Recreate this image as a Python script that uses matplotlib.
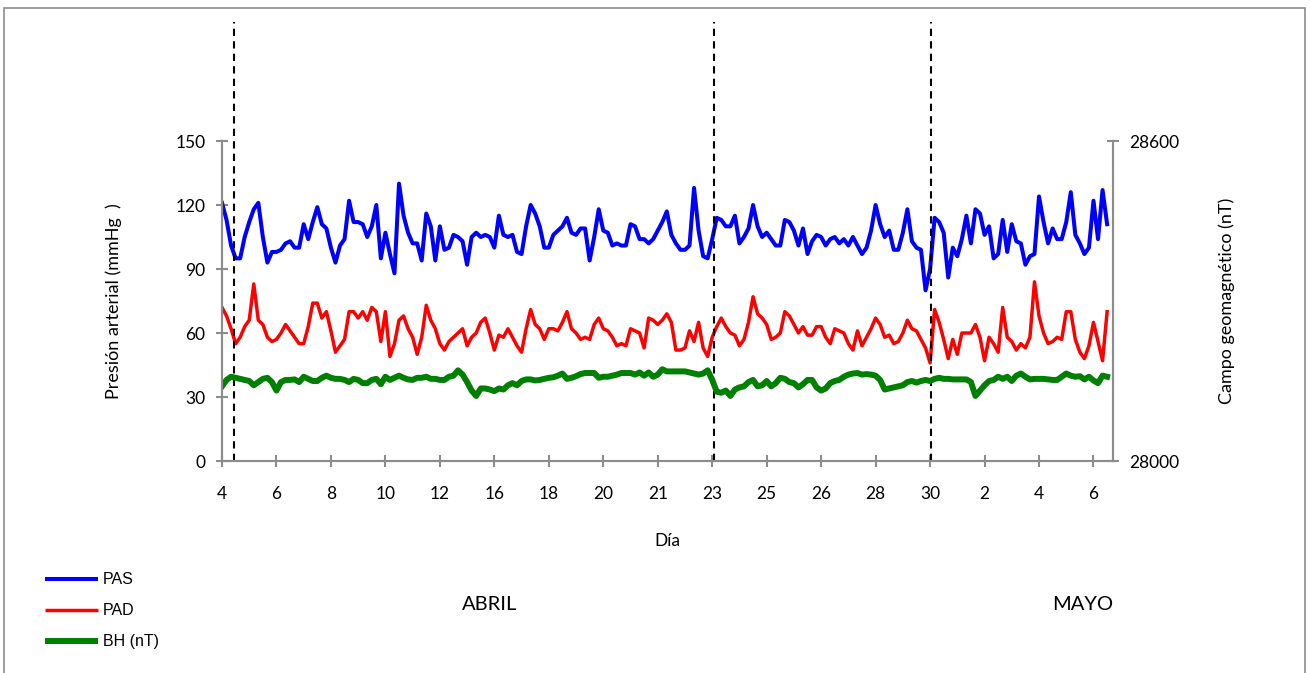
import matplotlib
matplotlib.use('Agg')
import matplotlib.pyplot as plt
import numpy as np
from matplotlib.patches import Rectangle

plt.rcParams['font.family'] = ['Lato', 'DejaVu Sans']

# category labels on the x axis, one every POINTS_PER_LABEL readings
day_labels = ['4', '6', '8', '10', '12', '16', '18', '20', '21', '23',
              '25', '26', '28', '30', '2', '4', '6']
POINTS_PER_LABEL = 12

# systolic pressure (mmHg)
pas = [
    121, 113, 101, 95, 95, 105, 112, 118, 121, 105, 93, 98,
    98, 99, 102, 103, 100, 100, 111, 104, 112, 119, 111, 109,
    100, 93, 101, 104, 122, 112, 112, 111, 105, 110, 120, 95,
    107, 97, 88, 130, 115, 107, 102, 102, 94, 116, 110, 94,
    110, 99, 100, 106, 105, 103, 92, 105, 107, 105, 106, 105,
    100, 115, 106, 105, 106, 98, 97, 110, 120, 116, 110, 100,
    100, 106, 108, 110, 114, 107, 106, 109, 109, 94, 105, 118,
    108, 107, 101, 102, 101, 101, 111, 110, 104, 104, 102, 104,
    108, 112, 117, 106, 102, 99, 99, 101, 128, 108, 96, 95,
    104, 114, 113, 110, 110, 115, 102, 105, 109, 120, 110, 105,
    107, 104, 101, 101, 113, 112, 108, 101, 109, 97, 103, 106,
    105, 101, 104, 105, 102, 104, 101, 105, 101, 97, 100, 108,
    120, 111, 105, 108, 99, 99, 107, 118, 103, 100, 99, 80,
    90, 114, 112, 107, 86, 100, 96, 104, 115, 102, 118, 116,
    106, 110, 95, 97, 113, 98, 111, 103, 102, 92, 96, 97,
    124, 112, 102, 109, 104, 104, 112, 126, 106, 102, 97, 100,
    122, 104, 127, 111,
]

# diastolic pressure (mmHg)
pad = [
    72, 68, 62, 55, 58, 63, 66, 83, 66, 64, 58, 56,
    57, 60, 64, 61, 58, 55, 55, 63, 74, 74, 67, 70,
    61, 51, 54, 57, 70, 70, 67, 70, 66, 72, 70, 56,
    70, 49, 55, 66, 68, 62, 58, 50, 58, 73, 66, 62,
    55, 52, 56, 58, 60, 62, 54, 58, 60, 65, 67, 60,
    52, 59, 58, 62, 58, 54, 51, 62, 71, 64, 62, 57,
    62, 62, 61, 65, 70, 62, 60, 57, 58, 57, 64, 67,
    62, 61, 58, 54, 55, 54, 62, 61, 60, 53, 67, 66,
    64, 66, 69, 65, 52, 52, 53, 61, 56, 65, 53, 49,
    58, 63, 67, 63, 60, 59, 54, 57, 65, 77, 69, 67,
    64, 57, 58, 60, 70, 68, 64, 60, 63, 59, 59, 63,
    63, 58, 55, 62, 61, 60, 55, 52, 61, 54, 58, 62,
    67, 64, 58, 59, 55, 56, 60, 66, 62, 61, 57, 53,
    46, 71, 65, 57, 48, 57, 50, 60, 60, 60, 64, 58,
    47, 58, 55, 51, 72, 58, 56, 52, 55, 53, 58, 84,
    68, 60, 55, 56, 58, 57, 70, 70, 57, 51, 48, 54,
    65, 56, 47, 70,
]

# horizontal geomagnetic component (nT)
bh = [
    28140, 28152, 28158, 28156, 28154, 28152, 28150, 28142, 28148, 28154, 28156, 28148,
    28132, 28148, 28152, 28152, 28153, 28148, 28158, 28154, 28150, 28150, 28156, 28160,
    28156, 28154, 28154, 28152, 28148, 28154, 28152, 28146, 28146, 28152, 28154, 28144,
    28158, 28152, 28156, 28160, 28156, 28153, 28152, 28156, 28156, 28158, 28154, 28154,
    28152, 28152, 28158, 28160, 28170, 28162, 28148, 28132, 28122, 28136, 28136, 28134,
    28131, 28136, 28134, 28142, 28146, 28142, 28150, 28153, 28153, 28151, 28152, 28154,
    28156, 28157, 28160, 28164, 28154, 28156, 28159, 28163, 28165, 28165, 28165, 28156,
    28158, 28158, 28160, 28162, 28165, 28165, 28165, 28162, 28166, 28160, 28166, 28158,
    28162, 28172, 28168, 28168, 28168, 28168, 28168, 28166, 28164, 28162, 28164, 28170,
    28152, 28130, 28128, 28132, 28122, 28134, 28138, 28140, 28148, 28152, 28140, 28142,
    28150, 28140, 28146, 28156, 28154, 28148, 28146, 28138, 28144, 28152, 28152, 28138,
    28132, 28136, 28146, 28150, 28152, 28158, 28162, 28164, 28165, 28162, 28163, 28162,
    28160, 28152, 28134, 28136, 28138, 28140, 28142, 28148, 28150, 28147, 28150, 28152,
    28150, 28154, 28156, 28154, 28154, 28153, 28153, 28153, 28153, 28148, 28122, 28132,
    28142, 28150, 28152, 28158, 28154, 28158, 28150, 28160, 28164, 28158, 28153, 28154,
    28154, 28154, 28153, 28152, 28152, 28158, 28164, 28160, 28158, 28159, 28153, 28158,
    28151, 28146, 28160, 28158,
]

# reading positions of the marked events (dashed lines)
event_idx = [2.6, 108.4, 156.2]

GREY = '#8c8c8c'


def style_axis(ax):
    ax.spines['top'].set_visible(False)
    for side in ['left', 'right', 'bottom']:
        ax.spines[side].set_color(GREY)
        ax.spines[side].set_linewidth(1.5)
    ax.tick_params(colors=GREY, width=1.5, length=8, direction='inout',
                   labelcolor='black', labelsize=12.5)


def main():
    fig = plt.figure(figsize=(13.1, 6.73), dpi=100)
    fig.patches.append(Rectangle((4 / 1310, -0.02), 1301 / 1310, 1.02 - 8 / 673,
                                 transform=fig.transFigure, fill=False,
                                 edgecolor=GREY, linewidth=1.2))

    ax = fig.add_axes([222 / 1310, 212 / 673, 891 / 1310, 320 / 673])
    ax2 = ax.twinx()

    x = np.arange(len(pas))
    l1, = ax.plot(x, pas, color='#0000ff', lw=2.9, solid_joinstyle='round')
    l2, = ax.plot(x, pad, color='#ff0000', lw=2.5, solid_joinstyle='round')
    l3, = ax2.plot(x, bh, color='#008000', lw=4.3, solid_joinstyle='round')

    for xi in event_idx:
        ax.plot([xi, xi], [0, 1.372], color='black', lw=1.5,
                linestyle=(0, (3.5, 2.5)), clip_on=False,
                transform=ax.get_xaxis_transform(), zorder=5)

    ax.set_xlim(0, 196.3)
    ax.set_ylim(0, 150)
    ax.set_yticks([0, 30, 60, 90, 120, 150])
    ax.set_xticks(np.arange(len(day_labels)) * POINTS_PER_LABEL)
    ax.set_xticklabels(day_labels)
    ax2.set_ylim(28000, 28600)
    ax2.set_yticks([28000, 28600])

    style_axis(ax)
    style_axis(ax2)
    ax.tick_params(axis='x', pad=14)
    ax.tick_params(axis='y', pad=8)
    ax2.tick_params(axis='y', pad=8)
    ax.patch.set_visible(False)

    ax.set_ylabel('Presión arterial (mmHg  )', fontsize=13, labelpad=38)
    ax2.set_ylabel('Campo geomagnético (nT)', fontsize=13, labelpad=28)
    ax.set_xlabel('Día', fontsize=12.5, labelpad=22)

    fig.text(490 / 1310, 1 - 605 / 673, 'ABRIL', fontsize=14.5,
             ha='center', va='center')
    fig.text(1083 / 1310, 1 - 605 / 673, 'MAYO', fontsize=14.5,
             ha='center', va='center')

    leg = fig.legend([l1, l2, l3], ['PAS', 'PAD', 'BH (nT)'], loc='upper left',
                     bbox_to_anchor=(39 / 1310, 1 - 566 / 673), frameon=False,
                     prop={'family': 'Liberation Sans', 'size': 11.5},
                     handlelength=3.3, handletextpad=0.3,
                     labelspacing=1.0, borderaxespad=0)
    for line in leg.get_lines():
        line.set_solid_capstyle('butt')

    plt.savefig('out.png', dpi=100)
    plt.close()


if __name__ == '__main__':
    main()
